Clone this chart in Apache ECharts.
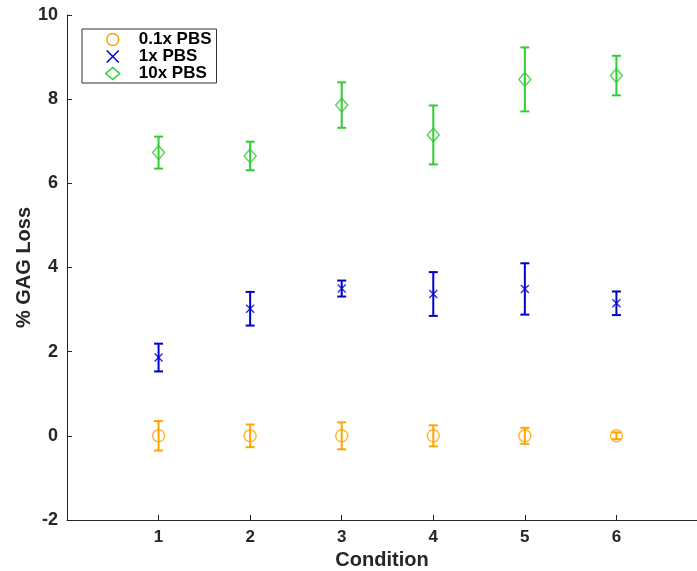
<!DOCTYPE html>
<html>
<head>
<meta charset="utf-8">
<title>% GAG Loss by Condition</title>
<script src="https://cdn.jsdelivr.net/npm/echarts@6/dist/echarts.min.js"></script>
<style>
  html, body { margin: 0; padding: 0; background: #fff; }
  #chart { width: 697px; height: 571px; }
</style>
</head>
<body>
<div id="chart"></div>
<script>
// Conditions on the x axis
var conditions = [1, 2, 3, 4, 5, 6];

// Mean % GAG loss and error (half-length of the bar) for each buffer strength
var pbs01Mean = [0.00, 0.00, 0.00, 0.00, 0.00, 0.00];
var pbs01Err  = [0.35, 0.27, 0.32, 0.25, 0.19, 0.08];

var pbs1Mean  = [1.86, 3.02, 3.50, 3.37, 3.49, 3.15];
var pbs1Err   = [0.33, 0.40, 0.19, 0.52, 0.61, 0.28];

var pbs10Mean = [6.73, 6.65, 7.86, 7.15, 8.47, 8.56];
var pbs10Err  = [0.38, 0.34, 0.54, 0.70, 0.76, 0.47];

var seriesNames = ['0.1x PBS', '1x PBS', '10x PBS'];
var yTicks = [-2, 0, 2, 4, 6, 8, 10];

var colors = ['#FFA500', '#0000CC', '#33CC33'];
var crossPath = 'path://M0,0L10,10M10,0L0,10';
var textColor = '#262626';
var fontFamily = '"Liberation Sans", Arial, Helvetica, sans-serif';

function pointsOf(means) {
  return conditions.map(function (c, i) { return [c, means[i]]; });
}
function barsOf(means, errs) {
  return conditions.map(function (c, i) { return [c, means[i] - errs[i], means[i] + errs[i]]; });
}

function errorBarSeries(name, color, means, errs) {
  return {
    name: name,
    type: 'custom',
    z: 3,
    data: barsOf(means, errs),
    encode: { x: 0, y: [1, 2] },
    renderItem: function (params, api) {
      var x = api.value(0);
      var lo = api.coord([x, api.value(1)]);
      var hi = api.coord([x, api.value(2)]);
      var half = 4.5;
      var style = { stroke: color, lineWidth: 2, fill: null };
      return {
        type: 'group',
        children: [
          { type: 'line', shape: { x1: lo[0], y1: lo[1], x2: hi[0], y2: hi[1] }, style: style },
          { type: 'line', shape: { x1: lo[0] - half, y1: lo[1], x2: lo[0] + half, y2: lo[1] }, style: style },
          { type: 'line', shape: { x1: hi[0] - half, y1: hi[1], x2: hi[0] + half, y2: hi[1] }, style: style }
        ]
      };
    }
  };
}

function markerSeries(name, color, means, symbol, size) {
  return {
    name: name,
    type: 'scatter',
    z: 4,
    symbol: symbol,
    symbolSize: size,
    data: pointsOf(means),
    itemStyle: { color: 'rgba(0,0,0,0)', borderColor: color, borderWidth: 1.5 },
    emphasis: { disabled: true }
  };
}

var chart = echarts.init(document.getElementById('chart'), null, { renderer: 'canvas' });

chart.setOption({
  animation: false,
  backgroundColor: '#fff',
  grid: { left: 67, top: 15, right: 0, bottom: 51, containLabel: false, outerBoundsMode: 'none' },
  legend: {
    orient: 'vertical',
    left: 82,
    top: 29,
    padding: [2, 5, 1, 23],
    itemGap: 0,
    itemWidth: 14,
    itemHeight: 12,
    borderColor: '#333',
    borderWidth: 1,
    backgroundColor: '#fff',
    selectedMode: false,
    textStyle: {
      fontFamily: fontFamily, fontWeight: 'bold', fontSize: 17, color: '#000',
      lineHeight: 17, padding: [0, 0, 0, 14]
    },
    data: [
      { name: seriesNames[0], icon: 'circle', itemStyle: { color: 'rgba(0,0,0,0)', borderColor: colors[0], borderWidth: 1.5 } },
      { name: seriesNames[1], icon: crossPath, itemStyle: { color: colors[1], borderColor: colors[1], borderWidth: 1.5 } },
      { name: seriesNames[2], icon: 'diamond', itemStyle: { color: 'rgba(0,0,0,0)', borderColor: colors[2], borderWidth: 1.5 } }
    ]
  },
  xAxis: {
    type: 'value',
    min: 0,
    max: 6.88,
    interval: 1,
    name: 'Condition',
    nameLocation: 'middle',
    nameGap: 30,
    nameTextStyle: { fontFamily: fontFamily, fontWeight: 'bold', fontSize: 20, color: textColor },
    splitLine: { show: false },
    axisLine: { onZero: false, lineStyle: { color: textColor, width: 1 } },
    axisTick: { inside: true, length: 5, lineStyle: { color: textColor } },
    axisLabel: {
      margin: 9,
      showMaxLabel: false,
      fontFamily: fontFamily, fontWeight: 'bold', fontSize: 17, color: textColor,
      formatter: function (v) { return conditions.indexOf(v) >= 0 ? String(v) : ''; }
    }
  },
  yAxis: {
    type: 'value',
    min: yTicks[0],
    max: yTicks[yTicks.length - 1],
    interval: 2,
    name: '% GAG Loss',
    nameLocation: 'middle',
    nameGap: 33,
    nameMoveOverlap: false,
    nameRotate: 90,
    nameTextStyle: { fontFamily: fontFamily, fontWeight: 'bold', fontSize: 20, color: textColor },
    splitLine: { show: false },
    axisLine: { show: true, onZero: false, lineStyle: { color: textColor, width: 1 } },
    axisTick: { show: true, inside: true, length: 5, lineStyle: { color: textColor } },
    axisLabel: { margin: 9, fontFamily: fontFamily, fontWeight: 'bold', fontSize: 18, color: textColor }
  },
  series: [
    errorBarSeries(seriesNames[0], colors[0], pbs01Mean, pbs01Err),
    errorBarSeries(seriesNames[1], colors[1], pbs1Mean, pbs1Err),
    errorBarSeries(seriesNames[2], colors[2], pbs10Mean, pbs10Err),
    markerSeries(seriesNames[0], colors[0], pbs01Mean, 'circle', 12),
    markerSeries(seriesNames[1], colors[1], pbs1Mean, crossPath, 8),
    markerSeries(seriesNames[2], colors[2], pbs10Mean, 'diamond', [12, 14])
  ]
});
</script>
</body>
</html>
